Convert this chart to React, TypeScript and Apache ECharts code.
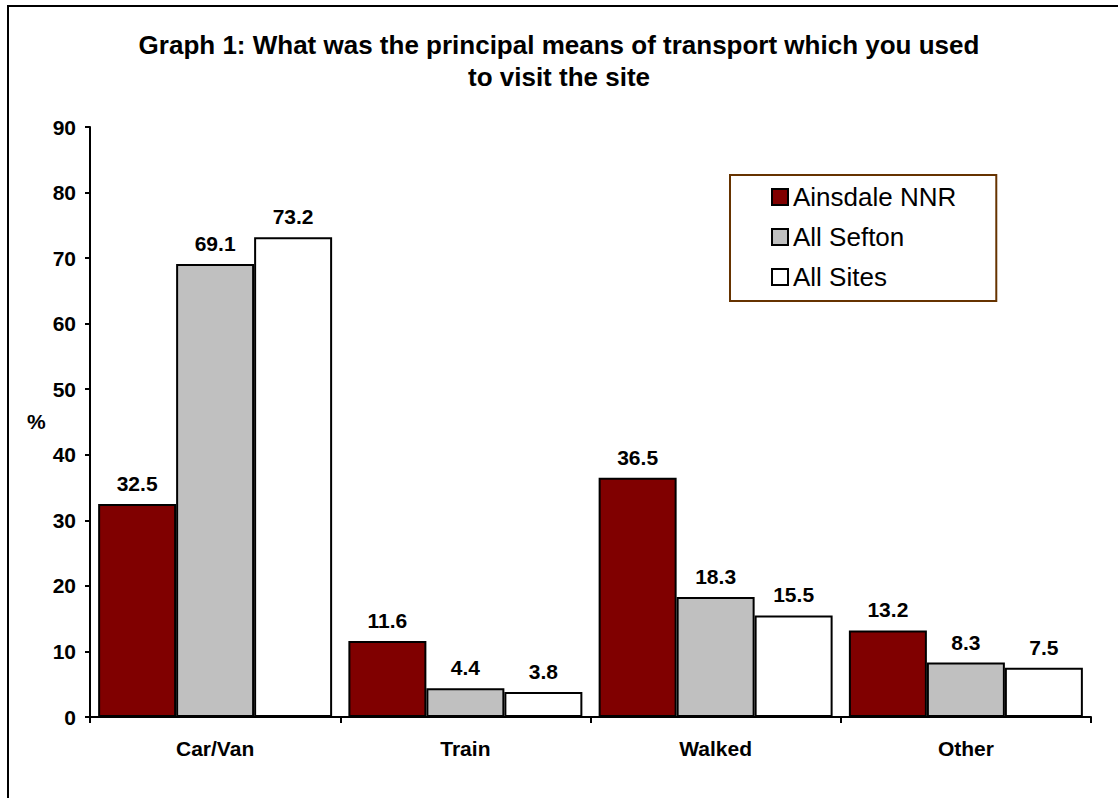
import React, { useEffect, useRef } from "react";
import * as echarts from "echarts";

const categories = ["Car/Van", "Train", "Walked", "Other"];
const seriesNames = ["Ainsdale NNR", "All Sefton", "All Sites"];
const ainsdale = [32.5, 11.6, 36.5, 13.2];
const allSefton = [69.1, 4.4, 18.3, 8.3];
const allSites = [73.2, 3.8, 15.5, 7.5];
const colors = ["#800000", "#C0C0C0", "#FFFFFF"];
const titleText = "Graph 1: What was the principal means of transport which you used\nto visit the site";

const FONT = "'Liberation Sans', Arial, Helvetica, sans-serif";

export default function App() {
  const ref = useRef<HTMLDivElement>(null);
  useEffect(() => {
    document.body.style.margin = "0";
    const chart = echarts.init(ref.current!, null, { renderer: "svg" });
    const values = [ainsdale, allSefton, allSites];
    const option = {
      animation: false,
      backgroundColor: "#ffffff",
      textStyle: { fontFamily: FONT },
      title: {
        text: titleText,
        left: 554,
        top: 24,
        textAlign: "center",
        textStyle: {
          fontFamily: FONT,
          fontSize: 26,
          fontWeight: "bold",
          lineHeight: 32,
          color: "#000",
        },
      },
      legend: {
        orient: "vertical",
        left: 730,
        top: 175,
        padding: [8, 40, 10, 41],
        itemGap: 12,
        itemWidth: 16,
        itemHeight: 16,
        itemStyle: { borderColor: "#000", borderWidth: 2 },
        borderColor: "#663300",
        borderWidth: 2,
        backgroundColor: "#fff",
        icon: "rect",
        textStyle: { fontFamily: FONT, fontSize: 26, color: "#000", lineHeight: 28 },
        data: seriesNames,
      },
      grid: { left: 90, right: 27, top: 127, bottom: 81, containLabel: false },
      xAxis: {
        type: "category",
        data: categories,
        boundaryGap: true,
        axisLine: { lineStyle: { color: "#000", width: 2 } },
        axisTick: { show: true, length: 6, lineStyle: { color: "#000", width: 2 } },
        axisLabel: { color: "#000", fontFamily: FONT, fontSize: 21, fontWeight: "bold", margin: 21 },
      },
      yAxis: {
        type: "value",
        min: 0,
        max: 90,
        interval: 10,
        splitLine: { show: false },
        axisLine: { show: true, lineStyle: { color: "#000", width: 2 } },
        axisTick: { show: true, length: 5, lineStyle: { color: "#000", width: 2 } },
        axisLabel: { color: "#000", fontFamily: FONT, fontSize: 21, fontWeight: "bold", margin: 14 },
      },
      graphic: [
        {
          type: "rect",
          silent: true,
          z: -10,
          shape: { x: 8, y: 6, width: 1200, height: 900 },
          style: { fill: "none", stroke: "#000", lineWidth: 2 },
        },
        {
          type: "text",
          left: 27,
          top: 411,
          style: { text: "%", fontFamily: FONT, fontSize: 21, fontWeight: "bold", fill: "#000" },
        },
      ],
      series: seriesNames.map((name, i) => ({
        name,
        type: "bar",
        data: values[i],
        barGap: "0%",
        barCategoryGap: "6.5%",
        itemStyle: { color: colors[i], borderColor: "#000", borderWidth: 2 },
        label: {
          show: true,
          position: "top",
          distance: 10,
          color: "#000",
          fontFamily: FONT,
          fontSize: 21,
          fontWeight: "bold",
          formatter: (p: any) => Number(p.value).toFixed(1),
        },
      })),
    };
    chart.setOption(option as any);
    return () => chart.dispose();
  }, []);
  return <div ref={ref} style={{ width: 1118, height: 798 }} />;
}
